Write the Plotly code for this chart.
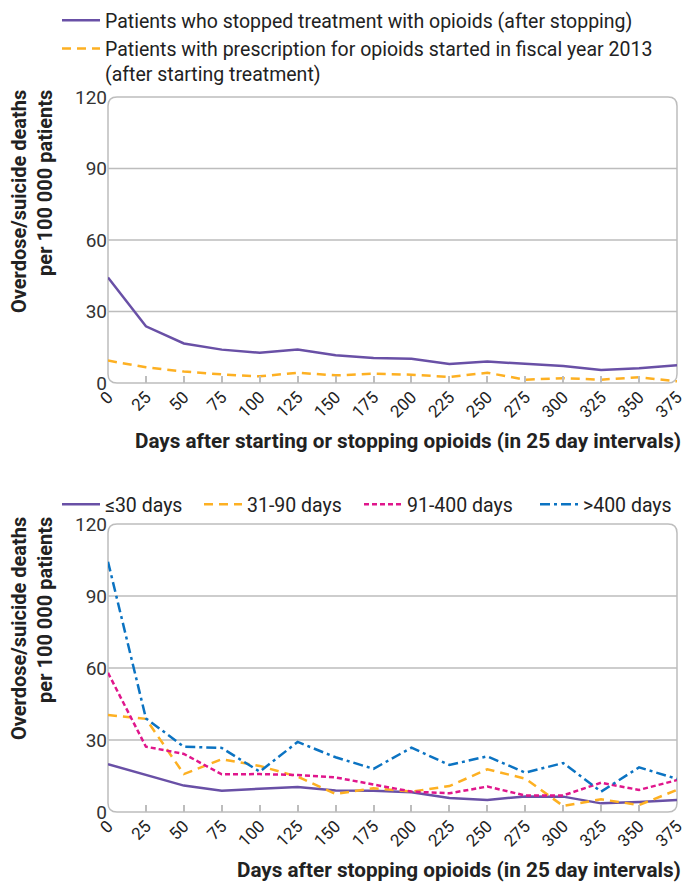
import plotly.graph_objects as go

days = [0, 25, 50, 75, 100, 125, 150, 175, 200, 225, 250, 275, 300, 325, 350, 375]
y_ticks = [0, 30, 60, 90, 120]

top_stopped = [44.3, 23.8, 16.6, 14.0, 12.7, 14.1, 11.6, 10.5, 10.2, 8.0, 9.0, 8.0, 7.1, 5.5, 6.2, 7.4]
top_started = [9.4, 6.6, 4.8, 3.6, 2.8, 4.3, 3.2, 3.9, 3.5, 2.5, 4.3, 1.4, 2.0, 1.4, 2.4, 0.7]

b_le30 = [19.9, 15.6, 11.0, 8.9, 9.7, 10.4, 9.0, 8.9, 8.2, 5.8, 5.0, 6.5, 6.4, 3.6, 4.2, 5.0]
b_31_90 = [40.4, 38.8, 15.8, 22.0, 19.2, 14.7, 7.5, 9.9, 8.5, 10.8, 17.8, 13.9, 2.5, 5.3, 2.9, 9.2]
b_91_400 = [58.0, 27.2, 24.2, 15.7, 15.8, 15.4, 14.4, 11.3, 8.5, 7.8, 10.6, 6.9, 6.9, 12.2, 9.2, 13.3]
b_gt400 = [104.3, 39.0, 27.2, 26.7, 16.8, 29.2, 22.8, 18.0, 26.8, 19.6, 23.2, 16.4, 20.4, 8.5, 18.6, 13.8]

top_names = ["Patients who stopped treatment with opioids (after stopping)",
             "Patients with prescription for opioids started in fiscal year 2013<br>(after starting treatment)"]
bottom_names = ["≤30 days", "31-90 days", "91-400 days", ">400 days"]

PURPLE = "#6950A6"
ORANGE = "#FDB022"
PINK = "#E0168C"
BLUE = "#0B73C2"
GRID = "#BDBDBD"
TXT = "#222222"
FONT = "Roboto"

W, H = 686, 883
xdom = [108 / W, 677 / W]
ydom_top = [1 - 383 / H, 1 - 97 / H]
ydom_bot = [1 - 812 / H, 1 - 524 / H]

fig = go.Figure()

fig.add_trace(go.Scatter(x=days, y=top_stopped, name=top_names[0], mode="lines",
                         line=dict(color=PURPLE, width=2.5), xaxis="x", yaxis="y", legend="legend"))
fig.add_trace(go.Scatter(x=days, y=top_started, name=top_names[1], mode="lines",
                         line=dict(color=ORANGE, width=2.5, dash="9px,6px"), xaxis="x", yaxis="y", legend="legend"))

styles = [(PURPLE, "solid"), (ORANGE, "9px,6px"), (PINK, "5px,3px"), (BLUE, "10px,4px,3px,4px")]
bottom_legends = ["legend2", "legend3", "legend4", "legend5"]
for name, vals, (c, d), lg in zip(bottom_names, [b_le30, b_31_90, b_91_400, b_gt400], styles, bottom_legends):
    fig.add_trace(go.Scatter(x=days, y=vals, name=name, mode="lines",
                             line=dict(color=c, width=2.5, dash=d), xaxis="x2", yaxis="y2", legend=lg))

xaxis_common = dict(range=[0, 375], tickvals=days, ticktext=[str(d) for d in days], tickangle=-45,
                    ticks="inside", ticklen=7, tickcolor=GRID, tickwidth=1.5, showgrid=False, zeroline=False,
                    showline=False, tickfont=dict(family=FONT, size=17, color=TXT), domain=xdom, automargin=False)
yaxis_common = dict(range=[0, 120], tickvals=y_ticks, showgrid=False, zeroline=False, showline=False,
                    tickfont=dict(family=FONT, size=19, color="#333"), ticks="", automargin=False)

legend_font = dict(family=FONT, size=19.5, color=TXT)
fig.update_layout(
    width=W, height=H, margin=dict(l=0, r=0, t=0, b=0),
    paper_bgcolor="white", plot_bgcolor="white",
    xaxis=dict(**xaxis_common, anchor="y"),
    yaxis=dict(**yaxis_common, domain=ydom_top, anchor="x"),
    xaxis2=dict(**xaxis_common, anchor="y2"),
    yaxis2=dict(**yaxis_common, domain=ydom_bot, anchor="x2"),
    legend=dict(x=57 / W, y=1 - 1 / H, xanchor="left", yanchor="top", orientation="v",
                font=legend_font, bgcolor="rgba(0,0,0,0)",
                tracegroupgap=2, itemwidth=38, valign="top"),
    showlegend=True,
)
for lg, xs in zip(bottom_legends, [57, 199, 359, 535]):
    fig.update_layout({lg: dict(x=xs / W, y=1 - 485 / H, xanchor="left", yanchor="top", orientation="h",
                                font=legend_font, bgcolor="rgba(0,0,0,0)", itemwidth=38)})

shapes = []
r = 9
for ydom, yref in [(ydom_top, "y"), (ydom_bot, "y2")]:
    x0, x1 = xdom
    y0, y1 = ydom
    rx, ry = r / W, r / H
    path = (f"M {x0 + rx},{y1} L {x1 - rx},{y1} Q {x1},{y1} {x1},{y1 - ry} "
            f"L {x1},{y0 + ry} Q {x1},{y0} {x1 - rx},{y0} L {x0 + rx},{y0} Q {x0},{y0} {x0},{y0 + ry} "
            f"L {x0},{y1 - ry} Q {x0},{y1} {x0 + rx},{y1} Z")
    shapes.append(dict(type="path", path=path, xref="paper", yref="paper",
                       line=dict(color=GRID, width=1.5), layer="below"))
    for v in y_ticks[1:-1]:
        shapes.append(dict(type="line", xref="paper", yref=yref, x0=x0, x1=x1, y0=v, y1=v,
                           line=dict(color=GRID, width=1.5), layer="below"))
fig.update_layout(shapes=shapes)

ytitle = "Overdose/suicide deaths<br>per 100 000 patients"
annotations = []
for yc in [202, 629]:
    annotations.append(dict(text=ytitle, xref="paper", yref="paper", x=32 / W, y=1 - yc / H, showarrow=False,
                            textangle=-90, align="right",
                            font=dict(family=FONT, size=20, color=TXT, weight="bold"),
                            xanchor="center", yanchor="middle"))
annotations.append(dict(text="Days after starting or stopping opioids (in 25 day intervals)", xref="paper",
                        yref="paper", x=683 / W, y=1 - 441 / H, showarrow=False, xanchor="right",
                        yanchor="middle", font=dict(family=FONT, size=20.7, color=TXT, weight="bold")))
annotations.append(dict(text="Days after stopping opioids (in 25 day intervals)", xref="paper",
                        yref="paper", x=683 / W, y=1 - 870 / H, showarrow=False, xanchor="right",
                        yanchor="middle", font=dict(family=FONT, size=20.7, color=TXT, weight="bold")))
fig.update_layout(annotations=annotations)

fig.write_html("out.html", config={"displayModeBar": False},
               post_script="document.body.style.margin='0px';")
